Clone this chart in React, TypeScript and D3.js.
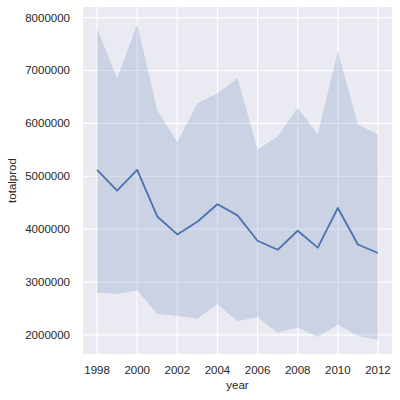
import React from "react";
import * as d3 from "d3";

const years = [1998, 1999, 2000, 2001, 2002, 2003, 2004, 2005, 2006, 2007, 2008, 2009, 2010, 2011, 2012];
const meanProd = [5.12e6, 4.73e6, 5.12e6, 4.24e6, 3.9e6, 4.14e6, 4.47e6, 4.26e6, 3.78e6, 3.61e6, 3.97e6, 3.65e6, 4.4e6, 3.71e6, 3.55e6];
const upperProd = [7.8e6, 6.85e6, 7.88e6, 6.25e6, 5.65e6, 6.38e6, 6.57e6, 6.86e6, 5.5e6, 5.75e6, 6.3e6, 5.79e6, 7.37e6, 5.98e6, 5.79e6];
const lowerProd = [2.8e6, 2.78e6, 2.84e6, 2.4e6, 2.36e6, 2.31e6, 2.58e6, 2.26e6, 2.34e6, 2.04e6, 2.14e6, 1.96e6, 2.2e6, 1.98e6, 1.91e6];
const xTicks = [1998, 2000, 2002, 2004, 2006, 2008, 2010, 2012];
const yTicks = [2000000, 3000000, 4000000, 5000000, 6000000, 7000000, 8000000];

export default function App() {
  const left = 83, right = 392, top = 7, bottom = 354;
  const x = d3.scaleLinear().domain([1997.3, 2012.7]).range([left, right]);
  const y = d3.scaleLinear().domain([1.64e6, 8.2e6]).range([bottom, top]);
  const data = years.map((yr, i) => ({ yr, m: meanProd[i], lo: lowerProd[i], hi: upperProd[i] }));
  const area = d3.area<any>().x(d => x(d.yr)).y0(d => y(d.lo)).y1(d => y(d.hi));
  const line = d3.line<any>().x(d => x(d.yr)).y(d => y(d.m));
  const font = "'Liberation Sans', Arial, sans-serif";
  return (
    <svg width={400} height={400} style={{ position: "absolute", left: 0, top: 0 }} fontFamily={font}>
      <rect x={0} y={0} width={400} height={400} fill="#ffffff" />
      <rect x={left} y={top} width={right - left} height={bottom - top} fill="#EAEAF2" />
      {xTicks.map(t => (
        <line key={"gx" + t} x1={x(t)} x2={x(t)} y1={top} y2={bottom} stroke="#ffffff" strokeWidth={1.2} />
      ))}
      {yTicks.map(t => (
        <line key={"gy" + t} x1={left} x2={right} y1={y(t)} y2={y(t)} stroke="#ffffff" strokeWidth={1.2} />
      ))}
      <path d={area(data) || ""} fill="#4C72B0" fillOpacity={0.2} />
      <path d={line(data) || ""} fill="none" stroke="#4C72B0" strokeWidth={1.8} strokeLinejoin="round" />
      {xTicks.map(t => (
        <text key={"tx" + t} x={x(t)} y={374} textAnchor="middle" fontSize={11.5} fill="#262626">{t}</text>
      ))}
      {yTicks.map(t => (
        <text key={"ty" + t} x={70} y={y(t) + 4} textAnchor="end" fontSize={11.5} fill="#262626">{t}</text>
      ))}
      <text x={(left + right) / 2} y={389} textAnchor="middle" fontSize={11.5} fill="#262626">year</text>
      <text transform={`translate(16, ${(top + bottom) / 2}) rotate(-90)`} textAnchor="middle" fontSize={11.5} fill="#262626">totalprod</text>
    </svg>
  );
}
